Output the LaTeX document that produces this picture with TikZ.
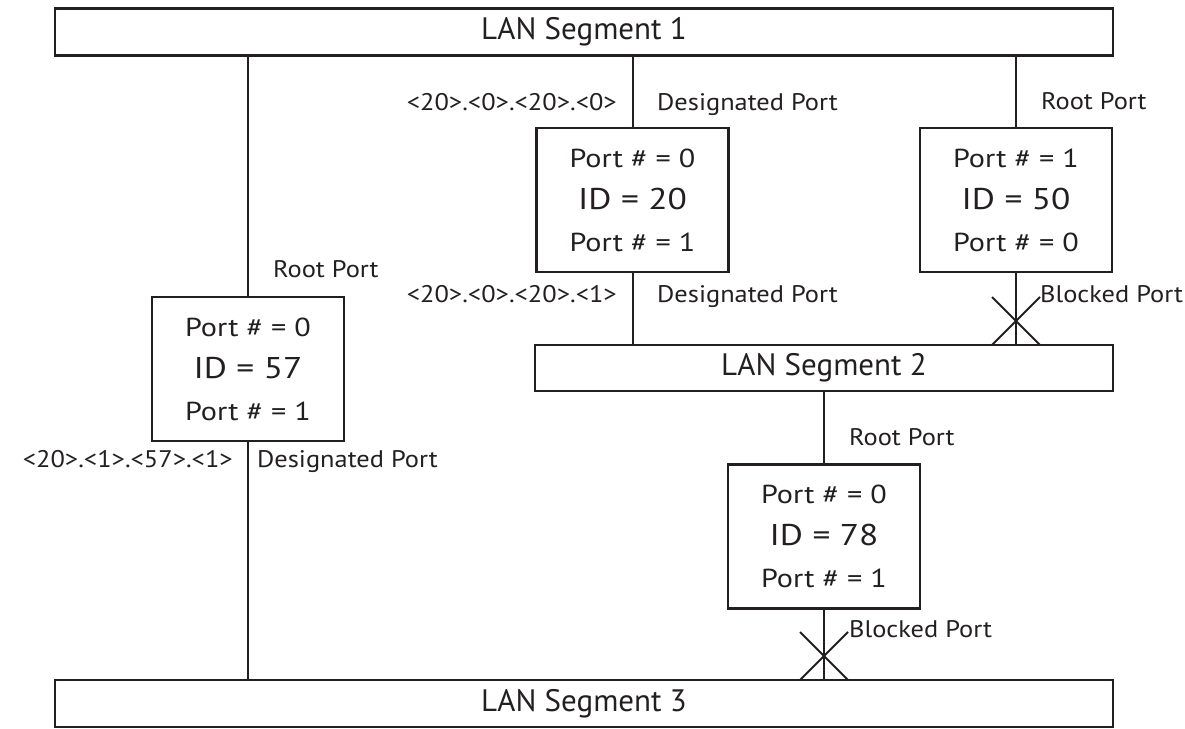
\documentclass[tikz,border=0pt]{standalone}
\usepackage{fontspec}
\setmainfont{PT Sans}
\newfontfamily\lblfont[FakeStretch=1.1]{PT Sans}
\newfontfamily\boxfont[FakeStretch=1.16]{PT Sans}
\newfontfamily\idfont[FakeStretch=1.18]{PT Sans}
\usetikzlibrary{calc}
\definecolor{ink}{HTML}{231F20}
\begin{document}
\begin{tikzpicture}[x=1pt,y=-1pt,
  every node/.style={text=ink},
  segbox/.style={draw=ink, line width=2.3pt, rectangle, inner sep=0pt,
    minimum height=47pt, font=\fontsize{31}{34}\selectfont},
  bridge/.style={draw=ink, line width=2.3pt, rectangle, inner sep=0pt,
    minimum width=192pt, minimum height=144pt, align=center,
    font=\boxfont\fontsize{26}{42}\selectfont},
  link/.style={draw=ink, line width=2pt},
  cross/.style={draw=ink, line width=2pt},
  portlabel/.style={inner sep=0pt, font=\lblfont\fontsize{24}{28}\selectfont},
]
\useasboundingbox (0,0) rectangle (1185,728);

% LAN segments
\node[segbox, minimum width=1058pt] (seg1) at (584,32) {LAN Segment 1};
\node[segbox, minimum width=578pt, minimum height=46pt] (seg2) at (824,368) {LAN Segment 2};
\node[segbox, minimum width=1058pt] (seg3) at (584,703.5) {LAN Segment 3};

% bridges
\newcommand{\idtext}[1]{{\idfont\fontsize{30}{42}\selectfont ID = #1}}
\node[bridge] (b20) at (632.5,200) {Port \# = 0\\\idtext{20}\\Port \# = 1};
\node[bridge] (b50) at (1016,200) {Port \# = 1\\\idtext{50}\\Port \# = 0};
\node[bridge] (b57) at (248,369) {Port \# = 0\\\idtext{57}\\Port \# = 1};
\node[bridge] (b78) at (824,536.5) {Port \# = 0\\\idtext{78}\\Port \# = 1};

% links between segments and bridges
\draw[link] (b57.north) -- (b57.north |- seg1.south);
\draw[link] (b57.south) -- (b57.south |- seg3.north);
\draw[link] (b20.north) -- (b20.north |- seg1.south);
\draw[link] (b20.south) -- (b20.south |- seg2.north);
\draw[link] (b50.north) -- (b50.north |- seg1.south);
\draw[link] (b50.south) -- (b50.south |- seg2.north);
\draw[link] (seg2.south -| b78.north) -- (b78.north);
\draw[link] (b78.south) -- (b78.south |- seg3.north);

% blocked ports
\coordinate (x50) at (1016,321);
\draw[cross] ($(x50)+(-24,-24)$) -- ($(x50)+(24,24)$)
             ($(x50)+(24,-24)$) -- ($(x50)+(-24,24)$);
\coordinate (x78) at (824,656);
\draw[cross] ($(x78)+(-24,-24)$) -- ($(x78)+(24,24)$)
             ($(x78)+(24,-24)$) -- ($(x78)+(-24,24)$);

% port labels
\node[portlabel, anchor=base east] (l1) at (617,110) {<20>.<0>.<20>.<0>};
\node[portlabel, anchor=base west] (l2) at (657,110) {Designated Port};
\node[portlabel, anchor=base west] (l3) at (1041,109) {Root Port};
\node[portlabel, anchor=base east] (l4) at (617,302) {<20>.<0>.<20>.<1>};
\node[portlabel, anchor=base west] (l5) at (657,302) {Designated Port};
\node[portlabel, anchor=base west] (l6) at (1040,302) {Blocked Port};
\node[portlabel, anchor=base west] (l7) at (273,277) {Root Port};
\node[portlabel, anchor=base east] (l8) at (233,467) {<20>.<1>.<57>.<1>};
\node[portlabel, anchor=base west] (l9) at (257,467) {Designated Port};
\node[portlabel, anchor=base west] (l10) at (849,445) {Root Port};
\node[portlabel, anchor=base west] (l11) at (849,637) {Blocked Port};
\end{tikzpicture}
\end{document}
